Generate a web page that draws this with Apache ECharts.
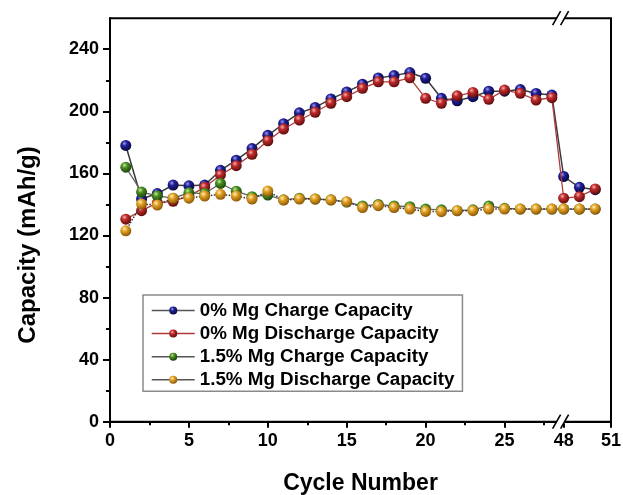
<!DOCTYPE html>
<html><head><meta charset="utf-8">
<script src="https://cdn.jsdelivr.net/npm/echarts@6/dist/echarts.min.js"></script>
<style>html,body{margin:0;padding:0;background:#fff}#c{width:623px;height:495px}</style>
</head><body><div id="c"></div>
<script>
const cycles = [1,2,3,4,5,6,7,8,9,10,11,12,13,14,15,16,17,18,19,20,21,22,23,24,25,26,27,28,48,49,50];
const charge0 = [178,143.5,147,152.5,152,152.5,162,168.5,176,184.5,192,199,202.5,208,212.5,217.5,221.5,223,225,221.3,208.4,206.8,209.4,213,213,214,211.5,210.5,158,151,149.5];
const discharge0 = [130.5,136,141,142,145.5,151,159,165,172.3,181,188.6,194.4,199.4,205.2,209.4,214.8,219,219,221.6,208.4,205.2,210,212.2,207.7,213.7,211.6,207.3,208.8,144,145,150];
const charge15 = [164,148,145.5,144,147.5,147,153.5,148.5,145,146,143,144,143.5,143,141.5,139,140,139,138.5,137,136.5,136,136.5,139,137.5,137,137,137,137,137,137];
const discharge15 = [123,140.3,139.6,144,144,145.4,146.5,145.4,143.5,148.6,142.8,143.5,143.5,142.8,141.8,138,139.2,138,137,135.5,135.3,136,136,137,137,137,137,137,137,137,137];
const seriesNames = ['0% Mg Charge Capacity','0% Mg Discharge Capacity','1.5% Mg Charge Capacity','1.5% Mg Discharge Capacity'];
const xTickLabels = [0,5,10,15,20,25,48,51];
const xMinorTicks = [2.5,7.5,12.5,17.5,22.5,27.5];
const yTickLabels = [0,40,80,120,160,200,240];
const yMinorTicks = [20,60,100,140,180,220];
const xBreak = {start: 28.3, end: 47.68};

const FONT = "'Liberation Sans', Arial, sans-serif";
function sphere(hi, base, edge) {
  return {type:'radial', x:0.38, y:0.32, r:0.7, colorStops:[
    {offset:0, color:hi},{offset:0.35, color:base},{offset:1, color:edge}]};
}
const colors = [
  sphere('#9a9af0','#1f1f96','#08083a'),
  sphere('#f4b0b0','#c02a2a','#5a0c0c'),
  sphere('#c4ee9c','#4c8e22','#1a420a'),
  sphere('#fff2c0','#e3a224','#8a5506')
];
const lines = [
  {color:'#3a3a3a', width:1.5, type:'solid'},
  {color:'#b03a3a', width:1.3, type:'solid'},
  {color:'#606060', width:1.3, type:'solid'},
  {color:'#333333', width:1.5, type:'dotted'}
];
const values = [charge0, discharge0, charge15, discharge15];

const chart = echarts.init(document.getElementById('c'), null, {renderer:'canvas'});
const xCommon = {type:'value', gridIndex:0, min:0, max:51, position:'bottom',
  breaks:[{start:xBreak.start, end:xBreak.end, gap:'0.4%'}], breakArea:{show:false}, splitLine:{show:false}};
chart.setOption({
  animation:false,
  backgroundColor:'#fff',
  grid:{left:110, top:18.2, width:501, height:403.5, show:true, borderColor:'#000', borderWidth:2,
    containLabel:false, outerBoundsMode:'none'},
  xAxis:[
    Object.assign({}, xCommon, {
      axisLine:{show:true, onZero:false, lineStyle:{color:'#000', width:2}},
      axisTick:{show:true, inside:false, length:6, lineStyle:{color:'#000', width:2}, customValues:xTickLabels},
      axisLabel:{show:true, customValues:xTickLabels, margin:10, fontSize:18, fontWeight:'bold', color:'#000', fontFamily:FONT},
      name:'Cycle Number', nameLocation:'middle', nameGap:50,
      nameTextStyle:{fontSize:23, fontWeight:'bold', color:'#000', fontFamily:FONT}
    }),
    Object.assign({}, xCommon, {
      axisLine:{show:false},
      axisTick:{show:true, inside:false, length:3.5, lineStyle:{color:'#000', width:2}, customValues:xMinorTicks},
      axisLabel:{show:false}
    })
  ],
  yAxis:[
    {type:'value', gridIndex:0, min:0, max:260, interval:20, position:'left', splitLine:{show:false},
      axisLine:{show:true, onZero:false, lineStyle:{color:'#000', width:2}},
      axisTick:{show:true, inside:false, length:7, lineStyle:{color:'#000', width:2}, customValues:yTickLabels},
      axisLabel:{show:true, customValues:yTickLabels, margin:11, fontSize:18, fontWeight:'bold', color:'#000', fontFamily:FONT},
      name:'Capacity (mAh/g)', nameLocation:'middle', nameGap:70,
      nameTextStyle:{fontSize:24, fontWeight:'bold', color:'#000', fontFamily:FONT, padding:[0,50,0,0]}
    },
    {type:'value', gridIndex:0, min:0, max:260, interval:20, position:'left', splitLine:{show:false},
      axisLine:{show:false},
      axisTick:{show:true, inside:false, length:4, lineStyle:{color:'#000', width:2}, customValues:yMinorTicks},
      axisLabel:{show:false}
    }
  ],
  legend:{orient:'vertical', left:143, top:295, padding:[6,8,2,8], itemWidth:43, itemHeight:10, itemGap:4.1,
    borderColor:'#8a8a8a', borderWidth:1.5, backgroundColor:'#fff',
    textStyle:{fontSize:18.8, fontWeight:'bold', color:'#000', fontFamily:FONT},
    data: seriesNames.map((n,i)=>({name:n, lineStyle:{type:'solid', color: i===1 ? '#b03a3a' : '#555', width:1.5}}))
  },
  series: seriesNames.map((n,i)=>({
    name:n, type:'line', xAxisIndex:0, yAxisIndex:0,
    data: cycles.map((c,k)=>[c, values[i][k]]),
    symbol:'circle', symbolSize:11, showSymbol:true,
    itemStyle:{color:colors[i]},
    lineStyle:lines[i],
    z: 2 + i
  }))
});

// break marks on the top and bottom frame
const xa = chart.convertToPixel({xAxisIndex:0}, xBreak.start);
const xb = chart.convertToPixel({xAxisIndex:0}, xBreak.end);
const cx = (xa + xb) / 2 + 3;
const yTop = chart.convertToPixel({yAxisIndex:0}, 260);
const yBot = chart.convertToPixel({yAxisIndex:0}, 0);
const g = [];
[yTop, yBot].forEach(y => {
  g.push({type:'rect', z:200, shape:{x:cx-4, y:y-2, width:8, height:4}, style:{fill:'#fff'}});
  g.push({type:'line', z:201, shape:{x1:cx-8, y1:y+7, x2:cx, y2:y-7}, style:{stroke:'#000', lineWidth:1.6}});
  g.push({type:'line', z:201, shape:{x1:cx, y1:y+7, x2:cx+8, y2:y-7}, style:{stroke:'#000', lineWidth:1.6}});
});
chart.setOption({graphic:g});
</script></body></html>
